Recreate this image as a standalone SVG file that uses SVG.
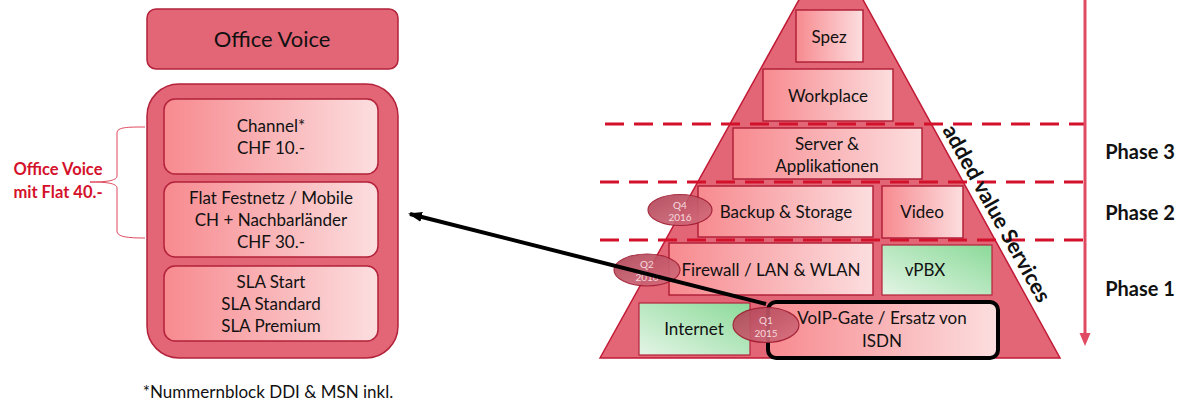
<svg xmlns="http://www.w3.org/2000/svg" width="1187" height="401" viewBox="0 0 1187 401">
<defs>
<linearGradient id="gRed" x1="0" y1="0" x2="1" y2="0">
<stop offset="0" stop-color="#f78a8f"/>
<stop offset="1" stop-color="#fcdedf"/>
</linearGradient>
<linearGradient id="gGreen" x1="1" y1="0" x2="0" y2="1">
<stop offset="0" stop-color="#8bda99"/>
<stop offset="1" stop-color="#e4f5e6"/>
</linearGradient>
<linearGradient id="gBub" x1="0" y1="0" x2="1" y2="1">
<stop offset="0" stop-color="#b04456"/>
<stop offset="1" stop-color="#d67080"/>
</linearGradient>
<marker id="ahBlack" viewBox="0 0 14 10" refX="12" refY="5" markerWidth="14" markerHeight="10" markerUnits="userSpaceOnUse" orient="auto">
<path d="M0,0 L14,5 L0,10 z" fill="#000"/>
</marker>
<style>
.t{font-family:Lato,"Open Sans","Liberation Sans",sans-serif;font-size:17px;fill:#111;text-anchor:middle}
.big{font-size:22px}
.b{font-weight:bold}
.red{fill:#d4112b}
.box{fill:url(#gRed);stroke:#b3223a;stroke-width:1.5}
.grn{fill:url(#gGreen);stroke:#b3223a;stroke-width:1.2}
.plate{fill:#e36677;stroke:#b3223a;stroke-width:1.5}
.dash{stroke:#d4112b;stroke-width:3;stroke-dasharray:19 10;fill:none}
.bub{fill:url(#gBub);stroke:#a11c32;stroke-width:1.2;opacity:0.92}
.bt{font-family:Lato,"Open Sans","Liberation Sans",sans-serif;font-size:10px;fill:#f6d9de;text-anchor:middle}
.ph{font-size:20px}
</style>
</defs>
<rect width="1187" height="401" fill="#fff"/>

<g id="office-voice-title">
<rect class="plate" x="147" y="9" width="251" height="60" rx="9"/>
<text class="t big" x="272" y="47">Office Voice</text>
</g>

<g id="office-voice-container">
<rect class="plate" x="147" y="84" width="251" height="274" rx="32"/>
</g>
<g id="channel">
<rect class="box" x="164" y="99" width="214" height="75" rx="11"/>
<text class="t" x="271" y="132">Channel*</text>
<text class="t" x="271" y="154">CHF 10.-</text>
</g>
<g id="flat">
<rect class="box" x="164" y="182" width="214" height="75" rx="11"/>
<text class="t" x="271" y="204">Flat Festnetz / Mobile</text>
<text class="t" x="271" y="226">CH + Nachbarländer</text>
<text class="t" x="271" y="248">CHF 30.-</text>
</g>
<g id="sla">
<rect class="box" x="164" y="266" width="214" height="75" rx="11"/>
<text class="t" x="271" y="288">SLA Start</text>
<text class="t" x="271" y="310">SLA Standard</text>
<text class="t" x="271" y="332">SLA Premium</text>
</g>
<g id="footnote">
<text class="t" x="268" y="398">*Nummernblock DDI &amp; MSN inkl.</text>
</g>

<g id="flat-label">
<path d="M145,127 C128,127 117,127 117,133 L117,176 C117,181 105,182 90,182 C105,182 117,183 117,188 L117,231 C117,237 128,238 145,238" fill="none" stroke="#e0475c" stroke-width="1"/>
<text class="t b red" x="58" y="175" style="font-size:16.5px">Office Voice</text>
<text class="t b red" x="58" y="198" style="font-size:16.5px">mit Flat 40.-</text>
</g>

<g id="pyramid">
<polygon points="600,358 800,-2 862,-2 1060,358" fill="#e36677" stroke="#c01a35" stroke-width="1.5"/>
</g>

<g id="phase-lines">
<line class="dash" x1="605" y1="124" x2="1084" y2="124"/>
<line class="dash" x1="600" y1="182" x2="1084" y2="182"/>
<line class="dash" x1="600" y1="240" x2="1084" y2="240"/>
</g>

<g id="spez">
<rect class="box" x="796" y="10" width="67" height="52"/>
<text class="t" x="829" y="43">Spez</text>
</g>
<g id="workplace">
<rect class="box" x="763" y="69" width="130" height="52"/>
<text class="t" x="828" y="102">Workplace</text>
</g>
<g id="server">
<rect class="box" x="733" y="128" width="189" height="51"/>
<text class="t" x="827" y="150">Server &amp;</text>
<text class="t" x="827" y="172">Applikationen</text>
</g>
<g id="backup">
<rect class="box" x="698" y="186" width="175" height="51"/>
<text class="t" x="786" y="218">Backup &amp; Storage</text>
</g>
<g id="video">
<rect class="box" x="882" y="186" width="81" height="52"/>
<text class="t" x="922" y="218">Video</text>
</g>
<g id="firewall">
<rect class="box" x="669" y="243" width="204" height="52"/>
<text class="t" x="771" y="276">Firewall / LAN &amp; WLAN</text>
</g>
<g id="vpbx">
<rect class="grn" x="882" y="245" width="110" height="50"/>
<text class="t" x="925" y="276">vPBX</text>
</g>
<g id="internet">
<rect class="grn" x="639" y="303" width="111" height="52"/>
<text class="t" x="694" y="335">Internet</text>
</g>
<g id="voip">
<rect x="768" y="302" width="230" height="56" rx="8" fill="url(#gRed)" stroke="#000" stroke-width="4"/>
<text class="t" x="882" y="324">VoIP-Gate / Ersatz von</text>
<text class="t" x="882" y="347">ISDN</text>
</g>

<g id="q4-2016">
<ellipse class="bub" cx="680" cy="210" rx="32" ry="15.5"/>
<text class="bt" x="680" y="209">Q4</text>
<text class="bt" x="680" y="221">2016</text>
</g>
<g id="q2-2016">
<ellipse class="bub" cx="647" cy="270" rx="33" ry="16"/>
<text class="bt" x="647" y="268">Q2</text>
<text class="bt" x="647" y="281">2016</text>
</g>
<g id="q1-2015">
<ellipse class="bub" cx="766" cy="325" rx="33" ry="17.5"/>
<text class="bt" x="766" y="324">Q1</text>
<text class="bt" x="766" y="337">2015</text>
</g>

<g id="added-value">
<text class="t b" x="942" y="130" transform="rotate(61 942 130)" style="text-anchor:start;font-size:21.5px">added value Services</text>
</g>

<g id="phases">
<text class="t b ph" x="1140" y="159">Phase 3</text>
<text class="t b ph" x="1140" y="220">Phase 2</text>
<text class="t b ph" x="1140" y="296">Phase 1</text>
</g>

<g id="connectors">
<line x1="766" y1="304" x2="410" y2="214" stroke="#000" stroke-width="4" marker-end="url(#ahBlack)"/>
<line x1="1085" y1="-2" x2="1085" y2="336" stroke="#e04a62" stroke-width="3"/>
<polygon points="1079.5,333 1090.5,333 1085,346" fill="#e04a62"/>
</g>
</svg>
